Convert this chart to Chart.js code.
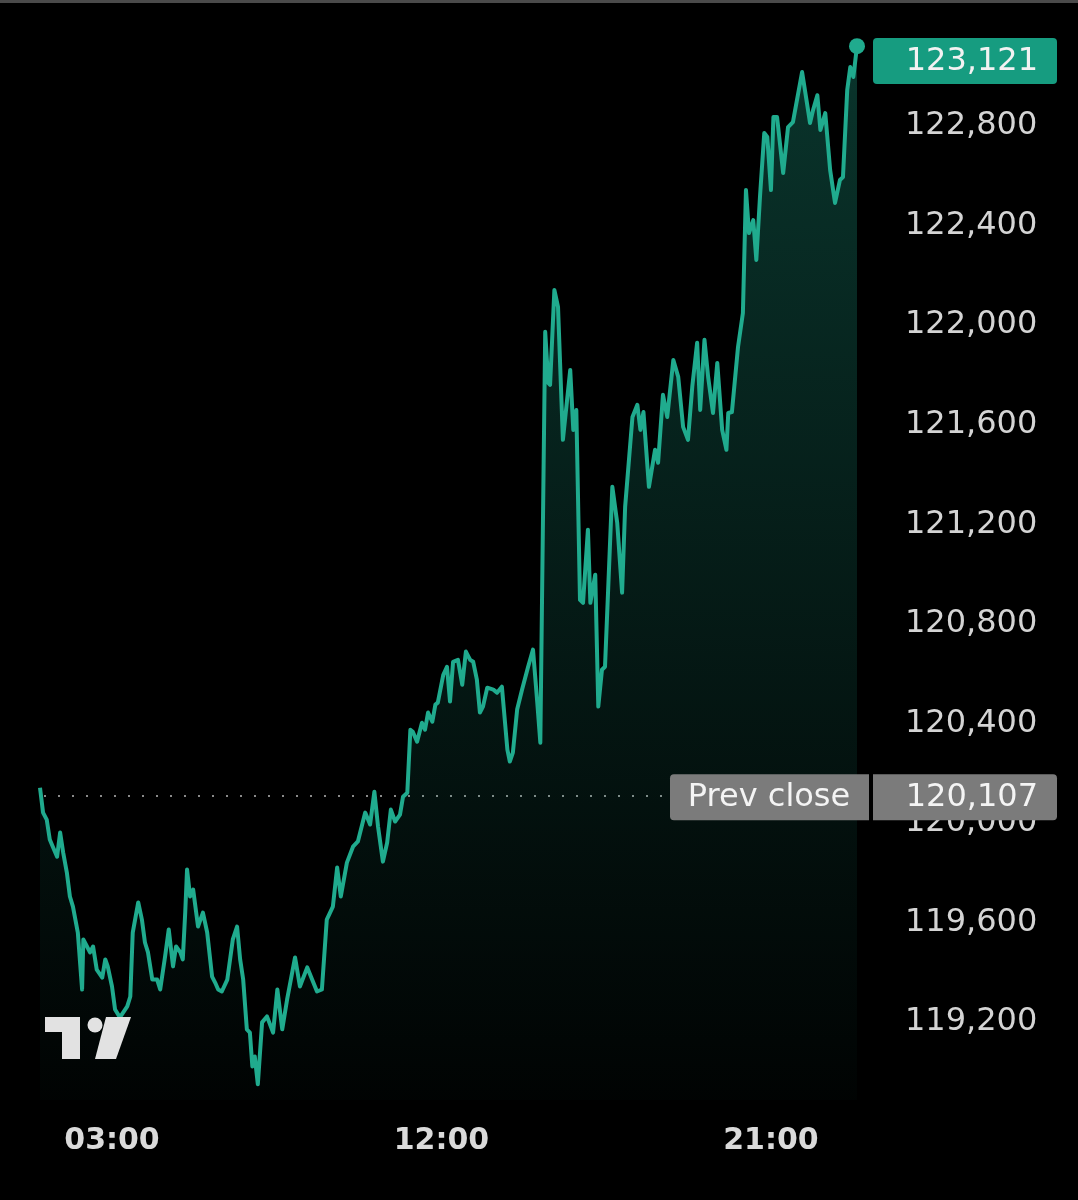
<!DOCTYPE html>
<html lang="en">
<head>
<meta charset="UTF-8">
<title>Intraday price</title>
<script src="https://cdn.jsdelivr.net/npm/chart.js"></script>
<style>
  html, body { margin: 0; padding: 0; background: #000; }
  #wrap { position: relative; width: 1078px; height: 1200px; }
</style>
</head>
<body>
<div id="wrap"><canvas id="chart"></canvas></div>
<script>
// time of day in minutes since 00:00
const minutes = [
  62, 67, 73, 78, 83, 90, 95, 100, 106, 111,
  116, 124, 131, 133, 139, 144, 149, 155, 164, 169,
  173, 180, 185, 193, 205, 210, 214, 223, 229, 234,
  239, 246, 254, 259, 267, 273, 280, 285, 292, 296,
  300, 303, 308, 313, 321, 329, 336, 344, 349, 354,
  360, 369, 378, 385, 390, 395, 401, 406, 410, 414,
  419, 426, 434, 444, 451, 459, 467, 480, 488, 500,
  508, 516, 524, 532, 542, 549, 555, 565, 575, 583,
  595, 603, 610, 616, 624, 631, 637, 644, 652, 657,
  664, 669, 673, 680, 688, 693, 698, 705, 710, 714,
  723, 729, 734, 739, 747, 754, 760, 767, 772, 778,
  783, 788, 795, 805, 811, 819, 828, 832, 837, 844,
  852, 862, 870, 877, 882, 890, 895, 898, 905, 911,
  919, 931, 936, 941, 947, 952, 960, 964, 972, 977,
  983, 988, 1000, 1008, 1016, 1021, 1033, 1041, 1046, 1051,
  1060, 1070, 1075, 1083, 1090, 1100, 1108, 1116, 1124, 1131,
  1139, 1144, 1151, 1157, 1165, 1172, 1180, 1187, 1190, 1196,
  1206, 1214, 1219, 1224, 1231, 1236, 1242, 1249, 1254, 1260,
  1264, 1270, 1280, 1288, 1296, 1311, 1319, 1324, 1329, 1336,
  1341, 1349, 1357, 1365, 1373, 1378, 1385, 1390, 1395, 1401
];
const prices = [
  120141, 120041, 120013, 119933, 119904, 119864, 119961, 119880, 119800, 119704,
  119663, 119559, 119330, 119531, 119503, 119479, 119503, 119410, 119378, 119451,
  119423, 119342, 119250, 119218, 119262, 119302, 119559, 119680, 119611, 119519,
  119479, 119370, 119370, 119330, 119463, 119571, 119423, 119503, 119479, 119451,
  119639, 119812, 119704, 119732, 119583, 119639, 119559, 119382, 119358, 119330,
  119322, 119370, 119531, 119583, 119451, 119370, 119170, 119157, 119021, 119061,
  118949, 119198, 119222, 119157, 119330, 119170, 119290, 119459, 119342, 119419,
  119370, 119322, 119330, 119611, 119663, 119820, 119704, 119840, 119904, 119925,
  120041, 119993, 120125, 119985, 119844, 119921, 120053, 120005, 120033, 120105,
  120121, 120374, 120366, 120326, 120402, 120374, 120443, 120406, 120475, 120483,
  120595, 120627, 120487, 120647, 120655, 120555, 120688, 120655, 120647, 120575,
  120443, 120467, 120543, 120535, 120523, 120547, 120294, 120246, 120282, 120455,
  120535, 120627, 120696, 120483, 120322, 121973, 121768, 121760, 122141, 122073,
  121539, 121820, 121579, 121659, 120896, 120884, 121178, 120884, 120997, 120467,
  120615, 120627, 121350, 121206, 120925, 121270, 121631, 121680, 121579, 121651,
  121350, 121499, 121447, 121720, 121631, 121860, 121792, 121591, 121539, 121752,
  121929, 121659, 121941, 121792, 121647, 121848, 121579, 121499, 121647, 121651,
  121912, 122049, 122543, 122370, 122422, 122262, 122515, 122772, 122756, 122543,
  122836, 122836, 122611, 122796, 122816, 123017, 122892, 122812, 122864, 122924,
  122784, 122852, 122623, 122491, 122583, 122595, 122945, 123037, 122997, 123121
];
const prevClose = 120107;
const yTicks = [119200, 119600, 120000, 120400, 120800, 121200, 121600, 122000, 122400, 122800];
const xTicks = [180, 720, 1260];

const teal = '#20ab8e';
const fontFam = "'DejaVu Sans', sans-serif";

function fmtTime(m) {
  const h = Math.floor(m / 60), mm = m % 60;
  return String(h).padStart(2, '0') + ':' + String(mm).padStart(2, '0');
}
function fmtPrice(v) {
  return v.toLocaleString('en-US');
}
function roundRect(ctx, x, y, w, h, r) {
  ctx.beginPath();
  ctx.roundRect(x, y, w, h, r);
  ctx.fill();
}
function noPad(s) {
  s.paddingTop = 0; s.paddingBottom = 0; s.paddingLeft = 0; s.paddingRight = 0;
}

const overlay = {
  id: 'overlay',
  beforeDatasetsDraw(chart) {
    const ctx = chart.ctx, y = chart.scales.y.getPixelForValue(prevClose);
    ctx.save();
    ctx.fillStyle = '#8a8a8a';
    for (let x = 44; x < 668; x += 14) {
      ctx.fillRect(x, Math.round(y) - 1, 2, 2);
    }
    ctx.restore();
  },
  afterDatasetsDraw(chart) {
    // tradingview logo
    const ctx = chart.ctx;
    ctx.save();
    ctx.fillStyle = '#e2e2e2';
    ctx.fillRect(45, 1017, 35, 15);
    ctx.fillRect(62, 1017, 18, 42);
    ctx.beginPath();
    ctx.arc(95, 1025, 7.5, 0, Math.PI * 2);
    ctx.fill();
    ctx.beginPath();
    ctx.moveTo(106, 1017);
    ctx.lineTo(131, 1017);
    ctx.lineTo(116, 1059);
    ctx.lineTo(95, 1059);
    ctx.closePath();
    ctx.fill();
    ctx.restore();
  },
  afterDraw(chart) {
    const ctx = chart.ctx, area = chart.chartArea, ys = chart.scales.y;
    ctx.save();
    ctx.fillStyle = '#4a4a4a';
    ctx.fillRect(0, 0, chart.width, 3);

    ctx.font = '32px ' + fontFam;
    ctx.textBaseline = 'middle';

    // last price box
    const last = prices[prices.length - 1];
    const ly = Math.max(ys.getPixelForValue(last), area.top + 31);
    ctx.fillStyle = '#169c80';
    roundRect(ctx, 873, ly - 23, 184, 46, 4);
    ctx.fillStyle = '#f2f2f2';
    ctx.textAlign = 'right';
    ctx.fillText(fmtPrice(last), 1038, ly + 1);

    // prev close boxes
    const py = ys.getPixelForValue(prevClose) + 1;
    ctx.fillStyle = '#7b7b7b';
    roundRect(ctx, 670, py - 23, 199, 46, [4, 0, 0, 4]);
    roundRect(ctx, 873, py - 23, 184, 46, [0, 4, 4, 0]);
    ctx.fillStyle = '#f4f4f4';
    ctx.textAlign = 'center';
    ctx.fillText('Prev close', 769, py + 1);
    ctx.textAlign = 'right';
    ctx.fillText(fmtPrice(prevClose), 1038, py + 1);
    ctx.restore();
  }
};

const points = minutes.map((m, i) => ({ x: m, y: prices[i] }));

new Chart(document.getElementById('chart'), {
  type: 'line',
  data: {
    datasets: [{
      data: points,
      borderColor: teal,
      borderWidth: 4,
      borderJoinStyle: 'round',
      tension: 0,
      fill: 'start',
      clip: false,
      backgroundColor: (c) => {
        const a = c.chart.chartArea;
        if (!a) return 'rgba(0,0,0,0)';
        const g = c.chart.ctx.createLinearGradient(0, a.top, 0, a.bottom);
        g.addColorStop(0, 'rgba(30,165,138,0.32)');
        g.addColorStop(1, 'rgba(30,165,138,0.02)');
        return g;
      },
      pointRadius: (c) => c.dataIndex === prices.length - 1 ? 8 : 0,
      pointBackgroundColor: teal,
      pointBorderWidth: 0,
      pointHoverRadius: 0
    }]
  },
  options: {
    responsive: true,
    maintainAspectRatio: false,
    animation: false,
    events: [],
    layout: { padding: { top: 30, right: 38, left: 40, bottom: 0 } },
    plugins: { legend: { display: false }, tooltip: { enabled: false } },
    scales: {
      x: {
        type: 'linear',
        min: minutes[0],
        max: minutes[minutes.length - 1],
        grid: { display: false, drawTicks: false },
        border: { display: false },
        afterBuildTicks: (s) => { s.ticks = xTicks.map(v => ({ value: v })); },
        afterFit: (s) => { s.height = 100; noPad(s); },
        ticks: {
          autoSkip: false,
          maxRotation: 0,
          padding: 23,
          color: '#dadada',
          font: { family: fontFam, size: 30, weight: 'bold' },
          callback: (v) => fmtTime(v)
        }
      },
      y: {
        position: 'right',
        min: 118886,
        max: 123186,
        grid: { display: false, drawTicks: false },
        border: { display: false },
        afterBuildTicks: (s) => { s.ticks = yTicks.map(v => ({ value: v })); },
        afterFit: (s) => { s.width = 183; noPad(s); },
        ticks: {
          autoSkip: false,
          padding: 48,
          crossAlign: 'near',
          color: '#d4d4d4',
          font: { family: fontFam, size: 32 },
          callback: (v) => fmtPrice(v)
        }
      }
    }
  },
  plugins: [overlay]
});
</script>
</body>
</html>
